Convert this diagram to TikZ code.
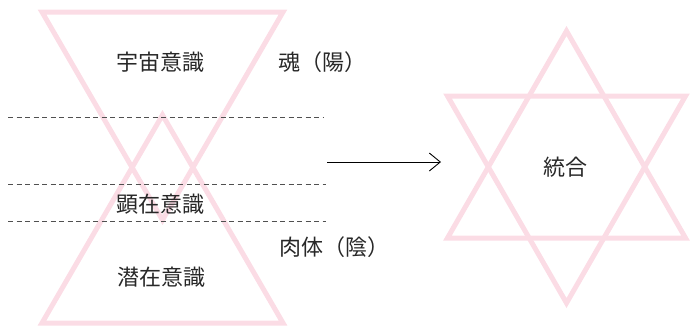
\documentclass[tikz,border=0pt]{standalone}
\usepackage{fontspec}
\newfontfamily\jp{Noto Sans CJK JP}
\usetikzlibrary{arrows.meta}
\definecolor{tripink}{RGB}{251,220,229}
\definecolor{txtgray}{RGB}{40,40,40}
\definecolor{dashgray}{RGB}{80,80,80}
\begin{document}
\begin{tikzpicture}[x=1pt,y=-1pt,
  tri/.style={draw=tripink,line width=5pt,line join=miter},
  lbl/.style={inner sep=0pt,text=txtgray,font=\jp\fontsize{22}{22}\selectfont},
  sep/.style={draw=dashgray,line width=0.9pt,dash pattern=on 5pt off 3.5pt},
  arr/.style={draw=black,line width=0.9pt,-{Straight Barb[length=11pt,width=18pt,line width=0.9pt]}}]
\useasboundingbox (0,0) rectangle (690,333);
% left: two triangles
\draw[tri] (42,12) -- (283,12) -- (162.5,220) -- cycle;
\draw[tri] (42,323) -- (283,323) -- (162.5,115) -- cycle;
% dashed separators
\coordinate (d1a) at (8,117);   \coordinate (d1b) at (323,117);
\coordinate (d2a) at (8,184.5); \coordinate (d2b) at (326,184.5);
\coordinate (d3a) at (8,221.5); \coordinate (d3b) at (326,221.5);
\draw[sep] (d1a) -- (d1b);
\draw[sep] (d2a) -- (d2b);
\draw[sep] (d3a) -- (d3b);
% labels
\node[lbl] (uchu) at (160,62) {宇宙意識};
\node[lbl] (kenzai) at (160,204) {顕在意識};
\node[lbl] (senzai) at (161,277) {潜在意識};
\node[lbl,anchor=west] (tama) at (278,62) {魂（陽）};
\node[lbl,anchor=west] (nikutai) at (279,247) {肉体（陰）};
% arrow
\coordinate (arrS) at (327,162);
\coordinate (arrE) at (441,162);
\draw[arr] (arrS) -- (arrE);
% star
\draw[tri] (447.5,238) -- (685.5,238) -- (566.5,31) -- cycle;
\draw[tri] (447.5,96) -- (685.5,96) -- (566.5,303) -- cycle;
\node[lbl] (togo) at (565,167) {統合};
\end{tikzpicture}
\end{document}
